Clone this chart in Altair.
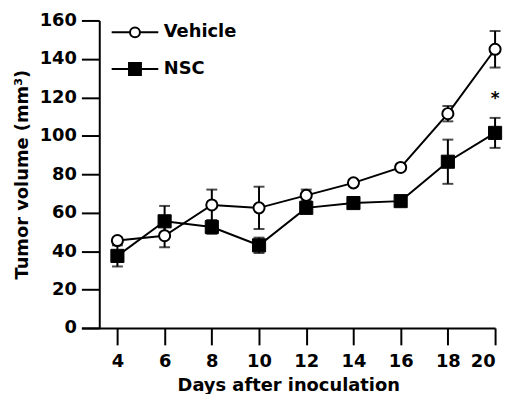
import altair as alt
import pandas as pd

days = [4, 6, 8, 10, 12, 14, 16, 18, 20]
series_names = ["Vehicle", "NSC"]
vehicle = [45.5, 48, 64, 62.5, 69, 75.5, 83.5, 111.5, 145]
vehicle_err = [1.5, 6, 8, 11, 3, 1.5, 1.5, 4, 9.5]
nsc = [37.5, 55.5, 52.5, 43, 62.5, 65, 66, 86.5, 101.5]
nsc_err = [5.5, 8, 3.5, 4, 2, 1.5, 1.5, 11.5, 7.8]
star_day = [20]
star_value = [119]
star_text = ["*"]
y_ticks = [0, 20, 40, 60, 80, 100, 120, 140, 160]
x_ticks = days

rows = []
for name, vals, errs in [("Vehicle", vehicle, vehicle_err), ("NSC", nsc, nsc_err)]:
    for d, v, e in zip(days, vals, errs):
        rows.append({"day": d, "value": v, "lo": v - e, "hi": v + e, "series": name})
df = pd.DataFrame(rows)
star_df = pd.DataFrame({"day": star_day, "value": star_value, "t": star_text})
legend_df = pd.DataFrame({"series": series_names, "day": [4, 4], "value": [0, 0]})

FONT = "DejaVu Sans"
xs = alt.Scale(domain=[2.475, 20], nice=False, zero=False)
ys = alt.Scale(domain=[0, 160], nice=False)

x_axis = alt.Axis(values=x_ticks, tickCount=len(x_ticks), tickSize=17, tickWidth=2, domainWidth=2,
                  domainColor="black", tickColor="black", labelFont=FONT, labelFontSize=18,
                  labelFontWeight="bold", labelColor="black", labelPadding=8, labelOverlap=False,
                  grid=False, title="Days after inoculation",
                  titleFont=FONT, titleFontSize=18, titleFontWeight="bold", titleColor="black",
                  titlePadding=6)
y_axis = alt.Axis(values=y_ticks, tickCount=len(y_ticks), tickSize=18, tickWidth=2, domainWidth=2,
                  domainColor="black", tickColor="black", labelFont=FONT, labelFontSize=18,
                  labelFontWeight="bold", labelColor="black", labelPadding=5, labelOverlap=False,
                  grid=False, offset=-18,
                  title="Tumor volume (mm³)", titleFont=FONT, titleFontSize=18,
                  titleFontWeight="bold", titleColor="black", titlePadding=8)

X = alt.X("day:Q", scale=xs, axis=x_axis)

base = alt.Chart(df)

err_rule = base.mark_rule(color="black", strokeWidth=2).encode(
    x=X, y=alt.Y("lo:Q", scale=ys, axis=y_axis), y2="hi:Q")
cap_lo = base.mark_tick(color="black", thickness=2, size=11, orient="horizontal").encode(
    x=X, y=alt.Y("lo:Q", scale=ys, axis=y_axis))
cap_hi = base.mark_tick(color="black", thickness=2, size=11, orient="horizontal").encode(
    x=X, y=alt.Y("hi:Q", scale=ys, axis=y_axis))

lines = base.mark_line(color="black", strokeWidth=2).encode(
    x=X, y=alt.Y("value:Q", scale=ys, axis=y_axis), detail="series:N")

veh_pts = base.transform_filter(alt.datum.series == "Vehicle").mark_point(
    shape="circle", filled=True, fill="white", stroke="black", strokeWidth=2, size=125, opacity=1
).encode(x=X, y=alt.Y("value:Q", scale=ys, axis=y_axis))
nsc_pts = base.transform_filter(alt.datum.series == "NSC").mark_point(
    shape="square", filled=True, fill="black", stroke="black", strokeWidth=1, size=175, opacity=1
).encode(x=X, y=alt.Y("value:Q", scale=ys, axis=y_axis))

star = alt.Chart(star_df).mark_text(font=FONT, fontSize=17, fontWeight="bold", color="black").encode(
    x=X, y=alt.Y("value:Q", scale=ys, axis=y_axis), text="t:N")

veh_path = "M-4.7,0H-1M1,0H4.7M-1,0A1,1,0,1,0,1,0A1,1,0,1,0,-1,0Z"
nsc_path = "M-4.7,0H4.7M-1.2,-1.2H1.2V1.2H-1.2Z"

leg = alt.Legend(title=None, orient="none", legendX=45, legendY=3, symbolSize=100,
                 symbolStrokeWidth=2, symbolStrokeColor="black", symbolOpacity=1,
                 labelFont=FONT, labelFontSize=18, labelFontWeight="bold", labelColor="black",
                 labelOffset=20, rowPadding=18, padding=0)
legend_layer = alt.Chart(legend_df).mark_point(filled=True, opacity=0).encode(
    x=X, y=alt.Y("value:Q", scale=ys, axis=y_axis),
    shape=alt.Shape("series:N", sort=series_names,
                    scale=alt.Scale(domain=series_names, range=[veh_path, nsc_path]), legend=leg),
    fill=alt.Fill("series:N", sort=series_names,
                  scale=alt.Scale(domain=series_names, range=["white", "black"]), legend=leg),
    stroke=alt.Stroke("series:N", sort=series_names,
                      scale=alt.Scale(domain=series_names, range=["black", "black"]), legend=leg),
)

chart = alt.layer(err_rule, cap_lo, cap_hi, lines, veh_pts, nsc_pts, star, legend_layer).properties(
    width=417, height=310,
    autosize=alt.AutoSizeParams(type="none"),
    padding={"left": 74, "top": 11, "right": 10, "bottom": 65},
    background="white",
).configure_view(stroke=None)

chart.save("out.html", embed_options={"renderer": "svg", "actions": False})
